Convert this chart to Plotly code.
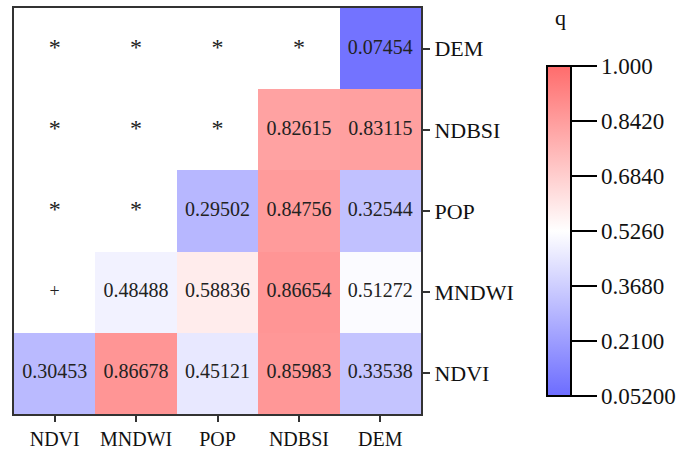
import plotly.graph_objects as go

factors = ["NDVI", "MNDWI", "POP", "NDBSI", "DEM"]
# q values: rows (y, bottom to top) x columns (x); None = blank cell
q_ndvi = [0.30453, 0.86678, 0.45121, 0.85983, 0.33538]
q_mndwi = [None, 0.48488, 0.58836, 0.86654, 0.51272]
q_pop = [None, None, 0.29502, 0.84756, 0.32544]
q_ndbsi = [None, None, None, 0.82615, 0.83115]
q_dem = [None, None, None, None, 0.07454]
# markers shown in blank cells
mark_ndvi = [None, None, None, None, None]
mark_mndwi = ["+", None, None, None, None]
mark_pop = ["*", "*", None, None, None]
mark_ndbsi = ["*", "*", "*", None, None]
mark_dem = ["*", "*", "*", "*", None]

z = [q_ndvi, q_mndwi, q_pop, q_ndbsi, q_dem]
marks = [mark_ndvi, mark_mndwi, mark_pop, mark_ndbsi, mark_dem]

cb_tickvals = [0.052, 0.21, 0.368, 0.526, 0.684, 0.842, 1.0]
cb_ticktext = ["0.05200", "0.2100", "0.3680", "0.5260", "0.6840", "0.8420", "1.000"]
zmin, zmax = 0.052, 1.0

colorscale = [
    [0.0, "rgb(108,108,255)"],
    [0.5, "rgb(255,255,255)"],
    [1.0, "rgb(255,108,108)"],
]

L, R, T, B = 14, 421, 8, 414
W, H = 694, 449
pw, ph = R - L, B - T

fig = go.Figure()
fig.add_trace(go.Heatmap(
    z=z, x=factors, y=factors,
    zmin=zmin, zmax=zmax, colorscale=colorscale,
    hoverongaps=False,
    colorbar=dict(
        tickvals=cb_tickvals, ticktext=cb_ticktext,
        ticks="outside", ticklen=25, tickwidth=2, tickcolor="black",
        tickfont=dict(family="Liberation Serif", size=23, color="#111"),
        outlinecolor="black", outlinewidth=2,
        thickness=24, thicknessmode="pixels",
        len=330, lenmode="pixels",
        x=(547 - L) / pw, xanchor="left",
        y=(B - 396) / ph, yanchor="bottom",
        xpad=0, ypad=0,
    ),
))

# text labels
tx, ty, tt, ts = [], [], [], []
for i, yname in enumerate(factors):
    for j, xname in enumerate(factors):
        v = z[i][j]
        if v is not None:
            tx.append(xname); ty.append(yname); tt.append(f"{v:.5f}"); ts.append(20)
        elif marks[i][j] is not None:
            tx.append(xname); ty.append(yname); tt.append(marks[i][j]); ts.append(24 if marks[i][j] == "*" else 18)

fig.add_trace(go.Scatter(
    x=tx, y=ty, text=tt, mode="text",
    textfont=dict(family="Liberation Serif", size=ts, color="#222"),
    hoverinfo="skip", showlegend=False,
))

fig.add_annotation(
    text="q", xref="paper", yref="paper",
    x=(560 - L) / pw, y=(B - 18) / ph, xanchor="center", yanchor="middle",
    showarrow=False, font=dict(family="Liberation Serif", size=22, color="#111"),
)

fig.update_layout(
    width=W, height=H,
    margin=dict(l=L, r=W - R, t=T, b=H - B, autoexpand=False),
    paper_bgcolor="white", plot_bgcolor="white",
    showlegend=False,
)
fig.update_xaxes(
    type="category", categoryorder="array", categoryarray=factors,
    showline=True, linecolor="#333", linewidth=2, mirror=True,
    ticks="outside", ticklen=6, tickwidth=2, tickcolor="#333",
    tickfont=dict(family="Liberation Serif", size=20, color="#111"),
    showgrid=False, zeroline=False, automargin=False,
)
fig.update_yaxes(
    type="category", categoryorder="array", categoryarray=factors,
    side="right",
    showline=True, linecolor="#333", linewidth=2, mirror=True,
    ticks="outside", ticklen=7, tickwidth=2, tickcolor="#333",
    tickfont=dict(family="Liberation Serif", size=22, color="#111"),
    showgrid=False, zeroline=False, automargin=False,
)

fig.write_html(
    "out.html",
    config={"displayModeBar": False},
    post_script="document.body.style.margin='0';document.body.style.overflow='hidden';",
)
